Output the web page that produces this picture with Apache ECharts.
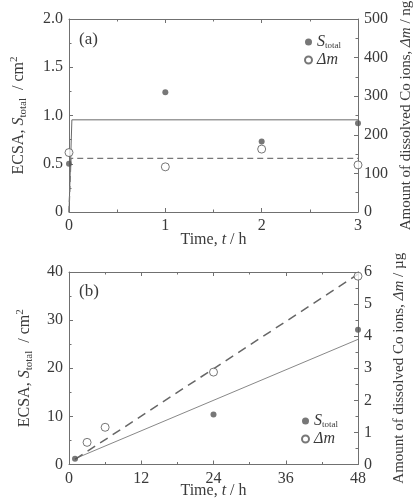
<!DOCTYPE html>
<html><head><meta charset="utf-8">
<script src="https://cdn.jsdelivr.net/npm/echarts@6/dist/echarts.min.js"></script>
<style>html,body{margin:0;padding:0;background:#fff}#c{width:416px;height:504px}</style>
</head><body><div id="c"></div>
<script>
// ---- Panel (a) data ----
const timeA = [0, 1, 2, 3];
const sTotalA = [0.5, 1.24, 0.73, 0.92];          // cm^2 (left axis)
const dmA = [154, 117, 163, 122];                  // ng (right axis)
const fitTimeSA = [0, 0.03, 3];
const fitSA = [0, 0.955, 0.955];
const fitTimeDmA = [0, 0.02, 3];
const fitDmA = [0, 139, 139];

// ---- Panel (b) data ----
const timeBS = [1, 24, 48];
const sTotalB = [1.2, 10.4, 28.0];                 // cm^2
const timeBDm = [3, 6, 24, 48];
const dmB = [0.69, 1.16, 2.88, 5.87];              // µg
const fitTimeSB = [1, 48];
const fitSB = [1.2, 26.0];
const fitTimeDmB = [1, 48];
const fitDmB = [0.16, 5.93];

const FONT = 'Liberation Serif';
const TXT = '#3a3a3a';
const AX = '#707070';
const zip = (a, b) => a.map((v, i) => [v, b[i]]);

const richName = {
  t: {fontFamily: FONT, fontSize: 16, color: TXT},
  i: {fontFamily: FONT, fontSize: 16, color: TXT, fontStyle: 'italic'},
  sub: {fontFamily: FONT, fontSize: 11, color: TXT, verticalAlign: 'bottom', padding: [9, 0, 0, 0]},
  sup: {fontFamily: FONT, fontSize: 11, color: TXT, verticalAlign: 'top', padding: [0, 0, 9, 0]}
};
const richX = {
  t: {fontFamily: FONT, fontSize: 16, color: TXT},
  i: {fontFamily: FONT, fontSize: 16, color: TXT, fontStyle: 'italic'}
};
const richRight = {
  t: {fontFamily: FONT, fontSize: 15, color: TXT},
  i: {fontFamily: FONT, fontSize: 15, color: TXT, fontStyle: 'italic'}
};

function axisCommon(min, max, interval, showLabel, fmt) {
  return {
    min, max, interval,
    axisLine: {show: true, onZero: false, lineStyle: {color: AX, width: 1}},
    axisTick: {show: true, inside: true, length: 4, lineStyle: {color: AX}},
    minorTick: {show: true, splitNumber: 2, length: 2.5, lineStyle: {color: AX}},
    splitLine: {show: false},
    axisLabel: {show: showLabel, fontFamily: FONT, fontSize: 16, color: TXT, margin: 6,
      formatter: fmt || (v => String(v))}
  };
}
const fmt1 = v => v === 0 ? '0' : v.toFixed(1);

const xTitle = gap => ({
  name: '{t|Time, }{i|t}{t| / h}', nameLocation: 'middle', nameGap: gap, nameMoveOverlap: false,
  nameTextStyle: {rich: richX}
});

const legendText = {rich: {
  i: {fontFamily: FONT, fontSize: 16, fontStyle: 'italic', color: TXT},
  s: {fontFamily: FONT, fontSize: 9, color: TXT, verticalAlign: 'bottom', padding: [5, 0, 0, 0]}}};

const option = {
  animation: false,
  backgroundColor: '#fff',
  grid: [
    {left: 69, right: 58, top: 19, height: 193, containLabel: false, outerBoundsMode: 'none'},
    {left: 69, right: 58, top: 272, height: 192.5, containLabel: false, outerBoundsMode: 'none'}
  ],
  xAxis: [
    Object.assign(axisCommon(0, 3, 1, true), {gridIndex: 0, type: 'value', position: 'bottom'}, xTitle(20)),
    Object.assign(axisCommon(0, 3, 1, false), {gridIndex: 0, type: 'value', position: 'top'}),
    Object.assign(axisCommon(0, 48, 12, true), {gridIndex: 1, type: 'value', position: 'bottom'}, xTitle(18)),
    Object.assign(axisCommon(0, 48, 12, false), {gridIndex: 1, type: 'value', position: 'top'})
  ],
  yAxis: [
    Object.assign(axisCommon(0, 2, 0.5, true, fmt1), {gridIndex: 0, type: 'value', position: 'left',
      name: '{t|ECSA, }{i|S}{sub|total}{t|  / cm}{sup|2}', nameLocation: 'middle', nameGap: 40, nameRotate: 90,
      nameTextStyle: {rich: richName}}),
    Object.assign(axisCommon(0, 500, 100, true), {gridIndex: 0, type: 'value', position: 'right',
      name: '{t|Amount of dissolved Co ions, }{i|Δm}{t| / ng}', nameLocation: 'middle', nameGap: 40, nameRotate: 90,
      nameTextStyle: {rich: richRight}}),
    Object.assign(axisCommon(0, 40, 10, true), {gridIndex: 1, type: 'value', position: 'left',
      name: '{t|ECSA, }{i|S}{sub|total}{t|  / cm}{sup|2}', nameLocation: 'middle', nameGap: 34, nameRotate: 90,
      nameTextStyle: {rich: richName}}),
    Object.assign(axisCommon(0, 6, 1, true), {gridIndex: 1, type: 'value', position: 'right',
      name: '{t|Amount of dissolved Co ions, }{i|Δm}{t| / µg}', nameLocation: 'middle', nameGap: 34, nameRotate: 90,
      nameTextStyle: {rich: richRight}})
  ],
  legend: [
    {left: 299, top: 29, orient: 'vertical', itemGap: 2, itemWidth: 7, itemHeight: 7,
      data: ['Stotal', 'Δm'],
      formatter: n => n === 'Stotal' ? '{i|S}{s|total}' : '{i|Δm}',
      textStyle: legendText},
    {left: 296, top: 408, orient: 'vertical', itemGap: 2, itemWidth: 7, itemHeight: 7,
      data: ['Stotal', 'Δm'],
      formatter: n => n === 'Stotal' ? '{i|S}{s|total}' : '{i|Δm}',
      textStyle: legendText}
  ],
  graphic: [
    {type: 'text', left: 79, top: 31, style: {text: '(a)', fontFamily: FONT, fontSize: 17, fill: TXT}},
    {type: 'text', left: 79, top: 283, style: {text: '(b)', fontFamily: FONT, fontSize: 17, fill: TXT}}
  ],
  series: [
    {type: 'line', xAxisIndex: 0, yAxisIndex: 0, data: zip(fitTimeSA, fitSA), symbol: 'none',
      lineStyle: {color: '#6a6a6a', width: 1}, z: 2},
    {type: 'line', xAxisIndex: 0, yAxisIndex: 1, data: zip(fitTimeDmA, fitDmA), symbol: 'none',
      lineStyle: {color: '#777', width: 1.3, type: [6, 4]}, z: 2},
    {name: 'Stotal', type: 'scatter', xAxisIndex: 0, yAxisIndex: 0, data: zip(timeA, sTotalA),
      symbol: 'circle', symbolSize: 6, itemStyle: {color: '#555'}, z: 3},
    {name: 'Δm', type: 'scatter', xAxisIndex: 0, yAxisIndex: 1, data: zip(timeA, dmA),
      symbol: 'circle', symbolSize: 8, itemStyle: {color: '#fff', borderColor: '#555', borderWidth: 1}, z: 4},

    {type: 'line', xAxisIndex: 2, yAxisIndex: 2, data: zip(fitTimeSB, fitSB), symbol: 'none',
      lineStyle: {color: '#888', width: 1}, z: 2},
    {type: 'line', xAxisIndex: 2, yAxisIndex: 3, data: zip(fitTimeDmB, fitDmB), symbol: 'none',
      lineStyle: {color: '#666', width: 1.5, type: [9, 6]}, z: 2},
    {name: 'Stotal', type: 'scatter', xAxisIndex: 2, yAxisIndex: 2, data: zip(timeBS, sTotalB),
      symbol: 'circle', symbolSize: 6, itemStyle: {color: '#555'}, z: 3},
    {name: 'Δm', type: 'scatter', xAxisIndex: 2, yAxisIndex: 3, data: zip(timeBDm, dmB),
      symbol: 'circle', symbolSize: 8, itemStyle: {color: '#fff', borderColor: '#555', borderWidth: 1}, z: 4}
  ]
};
const chart = echarts.init(document.getElementById('c'), null, {renderer: 'canvas'});
chart.setOption(option);
</script></body></html>
